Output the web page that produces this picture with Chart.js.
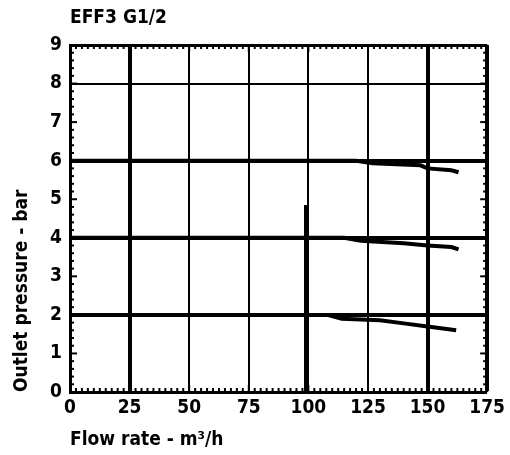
<!DOCTYPE html>
<html>
<head>
<meta charset="utf-8">
<script src="https://cdn.jsdelivr.net/npm/chart.js@4"></script>
<style>
  html, body { margin: 0; padding: 0; background: #fff; }
  #wrap { width: 510px; height: 455px; }
</style>
</head>
<body>
<div id="wrap"><canvas id="chart" width="510" height="455"></canvas></div>
<script>
// values (flow in m3/h, pressure in bar)
const title = 'EFF3 G1/2';
const xTitle = 'Flow rate - m\u00b3/h';
const yTitle = 'Outlet pressure - bar';

const flow6 = [0, 120, 127, 147, 150, 160, 163];
const press6 = [6, 6, 5.93, 5.88, 5.8, 5.75, 5.7];

const flow4 = [0, 115, 122, 140, 150, 160, 163];
const press4 = [4, 4, 3.92, 3.86, 3.8, 3.76, 3.7];

const flow2 = [0, 108, 114, 130, 140, 150, 162];
const press2 = [2, 2, 1.9, 1.86, 1.78, 1.7, 1.6];

const limitFlow = [99, 99];
const limitPress = [0, 4.85];

const font = "'Liberation Sans Narrow', 'DejaVu Sans Condensed', 'Liberation Sans', sans-serif";

function pts(xs, ys) {
  return xs.map((v, i) => ({ x: v, y: ys[i] }));
}

function line(ctx, x1, y1, x2, y2) {
  ctx.beginPath();
  ctx.moveTo(x1, y1);
  ctx.lineTo(x2, y2);
  ctx.stroke();
}

// small inward ticks on all four sides of the plot box
const minorTicks = {
  id: 'minorTicks',
  afterDraw(chart) {
    const { ctx, chartArea: a, scales: { x, y } } = chart;
    ctx.save();
    ctx.strokeStyle = '#000';
    ctx.lineWidth = 2;
    for (let i = 0; i <= 70; i++) {
      const px = x.getPixelForValue(i * 2.5);
      const len = i % 10 === 0 ? 7 : 4;
      line(ctx, px, a.bottom, px, a.bottom - len);
      line(ctx, px, a.top, px, a.top + len);
    }
    for (let i = 0; i <= 45; i++) {
      const py = y.getPixelForValue(i / 5);
      const len = i % 5 === 0 ? 7 : 4;
      line(ctx, a.left, py, a.left + len, py);
      line(ctx, a.right, py, a.right - len, py);
    }
    ctx.restore();
  }
};

// title sits over the left edge of the plot
const topTitle = {
  id: 'topTitle',
  afterDraw(chart) {
    const { ctx, chartArea: a } = chart;
    ctx.save();
    ctx.fillStyle = '#000';
    ctx.font = 'bold 19px ' + font;
    ctx.textBaseline = 'middle';
    ctx.textAlign = 'left';
    ctx.fillText(title, a.left, 18);
    ctx.restore();
  }
};

const ds = (data) => ({
  data: data,
  borderColor: '#000',
  backgroundColor: '#000',
  borderWidth: 4,
  pointRadius: 0,
  fill: false,
  tension: 0
});

new Chart(document.getElementById('chart'), {
  type: 'line',
  data: {
    datasets: [
      ds(pts(flow6, press6)),
      ds(pts(flow4, press4)),
      ds(pts(flow2, press2)),
      ds(pts(limitFlow, limitPress))
    ]
  },
  plugins: [minorTicks, topTitle],
  options: {
    responsive: false,
    animation: false,
    layout: { padding: { left: 8, right: 16, top: 45, bottom: 4 } },
    plugins: {
      legend: { display: false },
      tooltip: { enabled: false },
      title: { display: false }
    },
    scales: {
      x: {
        type: 'linear',
        min: 0,
        max: 175,
        afterFit(scale) { scale.height = 59; },
        ticks: {
          stepSize: 25,
          color: '#000',
          padding: 5,
          font: { family: font, size: 19, weight: 'bold' }
        },
        grid: {
          drawTicks: false,
          color: '#000',
          lineWidth: (c) => {
            const v = c.tick && c.tick.value;
            if (v === 25 || v === 150) return 4;
            if (v === 175) return 4;
            if (v === 0) return 0;
            return 2;
          }
        },
        border: { color: '#000', width: 3 },
        title: {
          display: true,
          text: xTitle,
          align: 'start',
          color: '#000',
          padding: { top: 0, bottom: 0 },
          font: { family: font, size: 19, weight: 'bold' }
        }
      },
      y: {
        min: 0,
        max: 9,
        afterFit(scale) { scale.width = 62; },
        ticks: {
          stepSize: 1,
          color: '#000',
          padding: 8,
          font: { family: font, size: 19, weight: 'bold' }
        },
        grid: {
          drawTicks: false,
          color: '#000',
          lineWidth: (c) => {
            const v = c.tick && c.tick.value;
            if (v === 2 || v === 4 || v === 6) return 4;
            if (v === 8) return 2;
            if (v === 9) return 3;
            return 0;
          }
        },
        border: { color: '#000', width: 3 },
        title: {
          display: true,
          text: yTitle,
          align: 'start',
          color: '#000',
          padding: { top: 3, bottom: 0 },
          font: { family: font, size: 19, weight: 'bold' }
        }
      }
    }
  }
});
</script>
</body>
</html>
